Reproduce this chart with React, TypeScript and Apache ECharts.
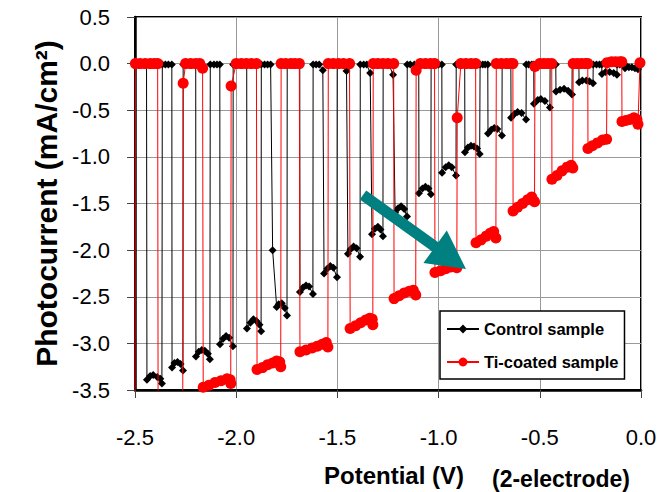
import React, { useEffect, useRef } from "react";
import * as echarts from "echarts";

// Chopped-light photocurrent (mA/cm2) vs potential (V)
const controlPoints: [number, number][] = [
  [-2.5, -3.6], [-2.498, -0.01], [-2.48, -0.01], [-2.46, -0.01], [-2.443, -0.01],
  [-2.441, -3.39], [-2.425, -3.35], [-2.41, -3.34], [-2.39, -3.36], [-2.375, -3.38], [-2.367, -3.43],
  [-2.365, -0.01], [-2.35, -0.01], [-2.335, -0.01], [-2.318, -0.01],
  [-2.317, -3.26], [-2.305, -3.21], [-2.29, -3.2], [-2.275, -3.22], [-2.263, -3.29],
  [-2.262, -0.01], [-2.245, -0.01], [-2.225, -0.01], [-2.2, -0.01],
  [-2.199, -3.14], [-2.185, -3.09], [-2.17, -3.07], [-2.155, -3.08], [-2.14, -3.11], [-2.13, -3.17],
  [-2.128, -0.01], [-2.11, -0.01], [-2.095, -0.01], [-2.081, -0.01],
  [-2.08, -3.01], [-2.065, -2.95], [-2.05, -2.92], [-2.035, -2.94], [-2.016, -3.03],
  [-2.015, -0.01], [-2.0, -0.01], [-1.98, -0.01], [-1.965, -0.01], [-1.948, -0.01],
  [-1.947, -2.84], [-1.93, -2.78], [-1.915, -2.74], [-1.9, -2.76], [-1.885, -2.8], [-1.877, -2.87],
  [-1.876, -0.01], [-1.86, -0.01], [-1.845, -0.01], [-1.83, -0.01], [-1.82, -2.0],
  [-1.8, -2.61], [-1.79, -2.58], [-1.775, -2.57], [-1.76, -2.62], [-1.749, -2.7],
  [-1.748, -0.01], [-1.73, -0.01], [-1.715, -0.01], [-1.7, -0.01], [-1.686, -0.01],
  [-1.685, -2.45], [-1.67, -2.4], [-1.655, -2.38], [-1.64, -2.39], [-1.621, -2.47],
  [-1.62, -0.01], [-1.605, -0.01], [-1.59, -0.01], [-1.572, -0.07],
  [-1.566, -2.25], [-1.55, -2.2], [-1.535, -2.17], [-1.52, -2.19], [-1.502, -2.29],
  [-1.501, -0.01], [-1.485, -0.01], [-1.47, -0.01], [-1.455, -0.08],
  [-1.448, -2.04], [-1.435, -1.99], [-1.42, -1.96], [-1.405, -1.98], [-1.388, -2.07],
  [-1.387, -0.01], [-1.37, -0.01], [-1.355, -0.01], [-1.338, -0.1],
  [-1.329, -1.83], [-1.315, -1.77], [-1.3, -1.75], [-1.287, -1.78], [-1.275, -1.85],
  [-1.274, -0.01], [-1.26, -0.01], [-1.245, -0.01], [-1.225, -0.12],
  [-1.215, -1.6], [-1.2, -1.55], [-1.185, -1.53], [-1.17, -1.56], [-1.156, -1.64],
  [-1.155, -0.01], [-1.14, -0.01], [-1.12, -0.01], [-1.098, -0.01],
  [-1.097, -1.39], [-1.08, -1.34], [-1.065, -1.32], [-1.05, -1.34], [-1.038, -1.4],
  [-1.037, -0.01], [-1.02, -0.01], [-1.0, -0.01], [-0.984, -0.01],
  [-0.983, -1.17], [-0.965, -1.11], [-0.95, -1.09], [-0.935, -1.11], [-0.914, -1.2],
  [-0.913, -0.01], [-0.9, -0.01], [-0.885, -0.01], [-0.871, -0.01],
  [-0.87, -0.95], [-0.855, -0.9], [-0.84, -0.88], [-0.825, -0.89], [-0.81, -0.91], [-0.797, -0.97],
  [-0.795, -0.01], [-0.782, -0.01], [-0.77, -0.01], [-0.757, -0.01],
  [-0.756, -0.75], [-0.74, -0.71], [-0.725, -0.69], [-0.71, -0.7], [-0.687, -0.77],
  [-0.686, -0.01], [-0.67, -0.01], [-0.655, -0.01], [-0.643, -0.01],
  [-0.642, -0.58], [-0.625, -0.54], [-0.61, -0.52], [-0.59, -0.53], [-0.568, -0.6],
  [-0.567, -0.01], [-0.555, -0.01], [-0.54, -0.01], [-0.53, -0.01],
  [-0.529, -0.43], [-0.51, -0.39], [-0.495, -0.38], [-0.475, -0.4], [-0.45, -0.47],
  [-0.449, -0.01], [-0.44, -0.01], [-0.43, -0.01], [-0.421, -0.01],
  [-0.42, -0.3], [-0.4, -0.28], [-0.38, -0.27], [-0.36, -0.29], [-0.341, -0.33],
  [-0.34, -0.01], [-0.33, -0.01], [-0.318, -0.01], [-0.307, -0.01],
  [-0.306, -0.2], [-0.29, -0.18], [-0.27, -0.18], [-0.255, -0.19], [-0.237, -0.21],
  [-0.236, -0.01], [-0.22, -0.01], [-0.205, -0.01], [-0.194, -0.01],
  [-0.193, -0.11], [-0.175, -0.09], [-0.155, -0.09], [-0.135, -0.1], [-0.119, -0.12],
  [-0.118, -0.01], [-0.105, -0.01], [-0.09, -0.01], [-0.08, -0.01],
  [-0.079, -0.05], [-0.06, -0.04], [-0.045, -0.04], [-0.03, -0.05], [-0.015, -0.06],
  [-0.012, -0.02], [-0.004, -0.02],
];

const tiCoatedPoints: [number, number][] = [
  [-2.5, -3.65], [-2.498, 0.0], [-2.475, 0.0], [-2.45, 0.0], [-2.425, 0.0], [-2.405, 0.0], [-2.388, 0.0],
  [-2.386, -3.62], [-2.33, -3.58], [-2.29, -3.56], [-2.264, -3.57],
  [-2.262, -0.21], [-2.25, 0.0], [-2.225, 0.0], [-2.2, 0.0], [-2.18, 0.0], [-2.166, -0.05],
  [-2.163, -3.47], [-2.135, -3.45], [-2.105, -3.42], [-2.075, -3.4], [-2.045, -3.38], [-2.03, -3.39], [-2.027, -3.43],
  [-2.025, -0.24], [-2.0, 0.0], [-1.975, 0.0], [-1.95, 0.0], [-1.925, 0.0], [-1.9, 0.0],
  [-1.897, -3.28], [-1.87, -3.26], [-1.845, -3.23], [-1.82, -3.21], [-1.8, -3.19], [-1.785, -3.2], [-1.78, -3.25],
  [-1.778, 0.0], [-1.755, 0.0], [-1.73, 0.0], [-1.71, 0.0], [-1.688, 0.0],
  [-1.685, -3.09], [-1.655, -3.07], [-1.625, -3.05], [-1.6, -3.03], [-1.575, -3.01], [-1.555, -2.99], [-1.547, -3.04],
  [-1.545, 0.0], [-1.52, 0.0], [-1.495, 0.0], [-1.47, 0.0], [-1.44, 0.0],
  [-1.437, -2.84], [-1.41, -2.81], [-1.385, -2.78], [-1.36, -2.75], [-1.34, -2.73], [-1.328, -2.74], [-1.325, -2.8],
  [-1.323, 0.0], [-1.3, 0.0], [-1.275, 0.0], [-1.25, 0.0], [-1.222, 0.0],
  [-1.22, -2.52], [-1.195, -2.49], [-1.17, -2.46], [-1.145, -2.44], [-1.125, -2.43], [-1.113, -2.48],
  [-1.111, -0.07], [-1.09, 0.0], [-1.065, 0.0], [-1.04, 0.0], [-1.02, 0.0],
  [-1.018, -2.24], [-0.99, -2.22], [-0.965, -2.2], [-0.94, -2.18], [-0.92, -2.17], [-0.91, -2.19],
  [-0.908, -0.58], [-0.89, 0.0], [-0.865, 0.0], [-0.84, 0.0], [-0.817, 0.0],
  [-0.815, -1.92], [-0.79, -1.89], [-0.765, -1.85], [-0.745, -1.82], [-0.728, -1.8], [-0.717, -1.87],
  [-0.715, 0.0], [-0.69, 0.0], [-0.665, 0.0], [-0.645, 0.0], [-0.633, 0.0],
  [-0.632, -1.58], [-0.61, -1.54], [-0.585, -1.5], [-0.56, -1.46], [-0.54, -1.43], [-0.526, -1.48],
  [-0.524, -0.03], [-0.5, 0.0], [-0.48, 0.0], [-0.46, 0.0], [-0.441, 0.0],
  [-0.44, -1.24], [-0.415, -1.2], [-0.39, -1.15], [-0.365, -1.11], [-0.345, -1.09], [-0.337, -1.12],
  [-0.335, 0.0], [-0.315, 0.0], [-0.295, 0.0], [-0.275, 0.0], [-0.263, 0.0],
  [-0.262, -0.91], [-0.24, -0.88], [-0.215, -0.85], [-0.19, -0.82], [-0.17, -0.81],
  [-0.168, 0.01], [-0.145, 0.02], [-0.125, 0.02], [-0.105, 0.02], [-0.095, 0.02],
  [-0.094, -0.62], [-0.075, -0.61], [-0.055, -0.6], [-0.035, -0.58], [-0.02, -0.6], [-0.015, -0.65],
  [-0.005, 0.01],
];

const seriesNames = ["Control sample", "Ti-coated sample"];
const xAxisTitle = "Potential (V)";
const xAxisNote = "(2-electrode)";
const yAxisTitle = "Photocurrent (mA/cm\u00B2)";

const FONT = "'Liberation Sans', Arial, Helvetica, sans-serif";

// teal annotation arrow (pixel outline)
const arrowOutline = [
  [366.2, 190.5], [438.3, 242.3], [446.8, 230.6], [466, 269],
  [423.4, 263], [431.9, 251.3], [359.8, 199.5],
];

const fmt = (v: number) => (Math.abs(v) < 1e-9 ? "0.0" : v.toFixed(1));

export default function App() {
  const ref = useRef<HTMLDivElement>(null);

  useEffect(() => {
    if (!ref.current) return;
    const chart = echarts.init(ref.current, null, { renderer: "svg" });
    chart.setOption({
      animation: false,
      backgroundColor: "#ffffff",
      grid: {
        left: 135,
        right: 28,
        top: 17,
        bottom: 101,
        show: true,
        borderColor: "#000",
        borderWidth: 2,
        backgroundColor: "transparent",
      },
      xAxis: {
        type: "value",
        min: -2.5,
        max: 0,
        interval: 0.5,
        name: xAxisTitle,
        nameLocation: "middle",
        nameGap: 73,
        nameTextStyle: {
          fontFamily: FONT,
          fontSize: 24,
          fontWeight: "bold",
          color: "#000",
          padding: [0, 0, 0, 12],
        },
        axisLine: { onZero: false, lineStyle: { color: "#000", width: 2.5 } },
        axisTick: { show: true, inside: false, length: 8, lineStyle: { color: "#444", width: 1 } },
        axisLabel: { margin: 36, fontFamily: FONT, fontSize: 22, color: "#000", formatter: fmt },
        splitLine: { show: true, lineStyle: { color: "#999", width: 1 } },
      },
      yAxis: {
        type: "value",
        min: -3.5,
        max: 0.5,
        interval: 0.5,
        name: yAxisTitle,
        nameLocation: "middle",
        nameGap: 68,
        nameTextStyle: {
          fontFamily: FONT,
          fontSize: 30,
          fontWeight: "bold",
          color: "#000",
        },
        axisLine: { onZero: false, lineStyle: { color: "#000", width: 2.5 } },
        axisTick: { show: true, inside: false, length: 8, lineStyle: { color: "#444", width: 1 } },
        axisLabel: { margin: 25, fontFamily: FONT, fontSize: 22, color: "#000", formatter: fmt },
        splitLine: { show: true, lineStyle: { color: "#999", width: 1 } },
      },
      legend: {
        data: seriesNames,
        orient: "vertical",
        left: 440,
        top: 311,
        padding: [8, 6, 7, 6],
        itemWidth: 32,
        itemHeight: 11,
        itemGap: 13,
        backgroundColor: "#fff",
        borderColor: "#000",
        borderWidth: 1.5,
        borderRadius: 0,
        selectedMode: false,
        textStyle: { fontFamily: FONT, fontSize: 16.5, fontWeight: "bold", color: "#000", lineHeight: 20 },
      },
      series: [
        {
          name: seriesNames[0],
          type: "line",
          data: controlPoints,
          symbol: "diamond",
          symbolSize: 8,
          showSymbol: true,
          silent: true,
          z: 2,
          lineStyle: { color: "#000", width: 1 },
          itemStyle: { color: "#000" },
        },
        {
          name: seriesNames[1],
          type: "line",
          data: tiCoatedPoints,
          symbol: "circle",
          symbolSize: 11,
          showSymbol: true,
          silent: true,
          z: 3,
          lineStyle: { color: "#ff0000", width: 1 },
          itemStyle: { color: "#ff0000" },
        },
      ],
      graphic: [
        {
          type: "polygon",
          z: 100,
          silent: true,
          shape: { points: arrowOutline },
          style: { fill: "#008080" },
        },
        {
          type: "text",
          left: 492,
          top: 467,
          z: 100,
          style: {
            text: xAxisNote,
            fontFamily: FONT,
            fontSize: 23,
            fontWeight: "bold",
            fill: "#000",
          },
        },
      ],
    });
    return () => chart.dispose();
  }, []);

  return (
    <div
      ref={ref}
      style={{ position: "fixed", left: 0, top: 0, width: 669, height: 492, background: "#fff" }}
    />
  );
}
